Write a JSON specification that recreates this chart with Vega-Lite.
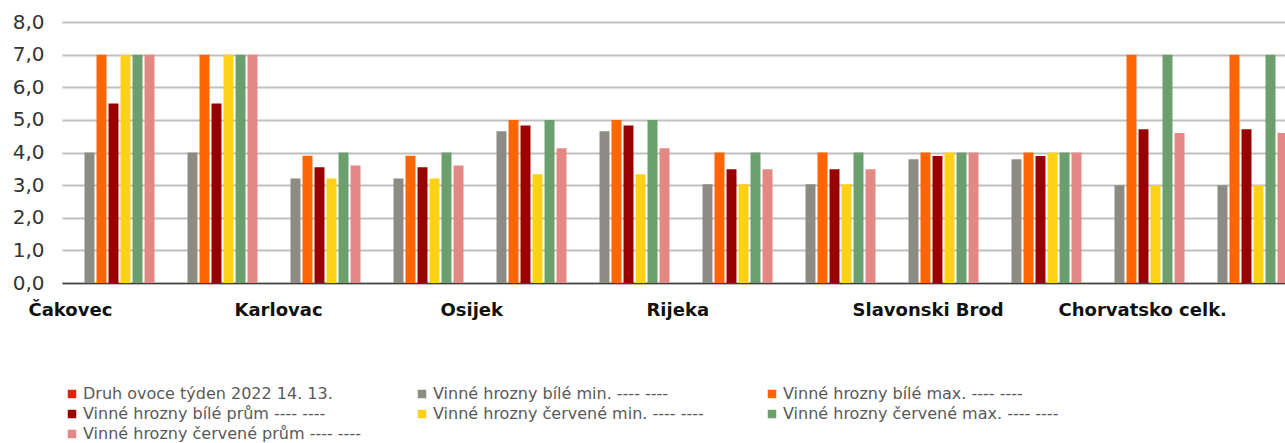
{
  "$schema": "https://vega.github.io/schema/vega-lite/v6.json",
  "autosize": {"type": "none"},
  "width": 1223,
  "height": 261,
  "padding": {"left": 62, "top": 22, "right": 0, "bottom": 160},
  "background": "white",
  "config": {"view": {"stroke": null}},
  "data": {
    "values": [
      {"skupina": "Čakovec|14", "rada": "Vinné hrozny bílé min. ---- ----", "cena": 4.0},
      {"skupina": "Čakovec|14", "rada": "Vinné hrozny bílé max. ---- ----", "cena": 7.0},
      {"skupina": "Čakovec|14", "rada": "Vinné hrozny bílé prům ---- ----", "cena": 5.5},
      {"skupina": "Čakovec|14", "rada": "Vinné hrozny červené min. ---- ----", "cena": 7.0},
      {"skupina": "Čakovec|14", "rada": "Vinné hrozny červené max. ---- ----", "cena": 7.0},
      {"skupina": "Čakovec|14", "rada": "Vinné hrozny červené prům ---- ----", "cena": 7.0},
      {"skupina": "Čakovec|13", "rada": "Vinné hrozny bílé min. ---- ----", "cena": 4.0},
      {"skupina": "Čakovec|13", "rada": "Vinné hrozny bílé max. ---- ----", "cena": 7.0},
      {"skupina": "Čakovec|13", "rada": "Vinné hrozny bílé prům ---- ----", "cena": 5.5},
      {"skupina": "Čakovec|13", "rada": "Vinné hrozny červené min. ---- ----", "cena": 7.0},
      {"skupina": "Čakovec|13", "rada": "Vinné hrozny červené max. ---- ----", "cena": 7.0},
      {"skupina": "Čakovec|13", "rada": "Vinné hrozny červené prům ---- ----", "cena": 7.0},
      {"skupina": "Karlovac|14", "rada": "Vinné hrozny bílé min. ---- ----", "cena": 3.2},
      {"skupina": "Karlovac|14", "rada": "Vinné hrozny bílé max. ---- ----", "cena": 3.9},
      {"skupina": "Karlovac|14", "rada": "Vinné hrozny bílé prům ---- ----", "cena": 3.55},
      {"skupina": "Karlovac|14", "rada": "Vinné hrozny červené min. ---- ----", "cena": 3.2},
      {"skupina": "Karlovac|14", "rada": "Vinné hrozny červené max. ---- ----", "cena": 4.0},
      {"skupina": "Karlovac|14", "rada": "Vinné hrozny červené prům ---- ----", "cena": 3.6},
      {"skupina": "Karlovac|13", "rada": "Vinné hrozny bílé min. ---- ----", "cena": 3.2},
      {"skupina": "Karlovac|13", "rada": "Vinné hrozny bílé max. ---- ----", "cena": 3.9},
      {"skupina": "Karlovac|13", "rada": "Vinné hrozny bílé prům ---- ----", "cena": 3.55},
      {"skupina": "Karlovac|13", "rada": "Vinné hrozny červené min. ---- ----", "cena": 3.2},
      {"skupina": "Karlovac|13", "rada": "Vinné hrozny červené max. ---- ----", "cena": 4.0},
      {"skupina": "Karlovac|13", "rada": "Vinné hrozny červené prům ---- ----", "cena": 3.6},
      {"skupina": "Osijek|14", "rada": "Vinné hrozny bílé min. ---- ----", "cena": 4.65},
      {"skupina": "Osijek|14", "rada": "Vinné hrozny bílé max. ---- ----", "cena": 5.0},
      {"skupina": "Osijek|14", "rada": "Vinné hrozny bílé prům ---- ----", "cena": 4.83},
      {"skupina": "Osijek|14", "rada": "Vinné hrozny červené min. ---- ----", "cena": 3.33},
      {"skupina": "Osijek|14", "rada": "Vinné hrozny červené max. ---- ----", "cena": 5.0},
      {"skupina": "Osijek|14", "rada": "Vinné hrozny červené prům ---- ----", "cena": 4.13},
      {"skupina": "Osijek|13", "rada": "Vinné hrozny bílé min. ---- ----", "cena": 4.65},
      {"skupina": "Osijek|13", "rada": "Vinné hrozny bílé max. ---- ----", "cena": 5.0},
      {"skupina": "Osijek|13", "rada": "Vinné hrozny bílé prům ---- ----", "cena": 4.83},
      {"skupina": "Osijek|13", "rada": "Vinné hrozny červené min. ---- ----", "cena": 3.33},
      {"skupina": "Osijek|13", "rada": "Vinné hrozny červené max. ---- ----", "cena": 5.0},
      {"skupina": "Osijek|13", "rada": "Vinné hrozny červené prům ---- ----", "cena": 4.13},
      {"skupina": "Rijeka|14", "rada": "Vinné hrozny bílé min. ---- ----", "cena": 3.03},
      {"skupina": "Rijeka|14", "rada": "Vinné hrozny bílé max. ---- ----", "cena": 4.0},
      {"skupina": "Rijeka|14", "rada": "Vinné hrozny bílé prům ---- ----", "cena": 3.49},
      {"skupina": "Rijeka|14", "rada": "Vinné hrozny červené min. ---- ----", "cena": 3.03},
      {"skupina": "Rijeka|14", "rada": "Vinné hrozny červené max. ---- ----", "cena": 4.0},
      {"skupina": "Rijeka|14", "rada": "Vinné hrozny červené prům ---- ----", "cena": 3.49},
      {"skupina": "Rijeka|13", "rada": "Vinné hrozny bílé min. ---- ----", "cena": 3.03},
      {"skupina": "Rijeka|13", "rada": "Vinné hrozny bílé max. ---- ----", "cena": 4.0},
      {"skupina": "Rijeka|13", "rada": "Vinné hrozny bílé prům ---- ----", "cena": 3.49},
      {"skupina": "Rijeka|13", "rada": "Vinné hrozny červené min. ---- ----", "cena": 3.03},
      {"skupina": "Rijeka|13", "rada": "Vinné hrozny červené max. ---- ----", "cena": 4.0},
      {"skupina": "Rijeka|13", "rada": "Vinné hrozny červené prům ---- ----", "cena": 3.49},
      {"skupina": "Slavonski Brod|14", "rada": "Vinné hrozny bílé min. ---- ----", "cena": 3.79},
      {"skupina": "Slavonski Brod|14", "rada": "Vinné hrozny bílé max. ---- ----", "cena": 4.0},
      {"skupina": "Slavonski Brod|14", "rada": "Vinné hrozny bílé prům ---- ----", "cena": 3.89},
      {"skupina": "Slavonski Brod|14", "rada": "Vinné hrozny červené min. ---- ----", "cena": 4.0},
      {"skupina": "Slavonski Brod|14", "rada": "Vinné hrozny červené max. ---- ----", "cena": 4.0},
      {"skupina": "Slavonski Brod|14", "rada": "Vinné hrozny červené prům ---- ----", "cena": 4.0},
      {"skupina": "Slavonski Brod|13", "rada": "Vinné hrozny bílé min. ---- ----", "cena": 3.79},
      {"skupina": "Slavonski Brod|13", "rada": "Vinné hrozny bílé max. ---- ----", "cena": 4.0},
      {"skupina": "Slavonski Brod|13", "rada": "Vinné hrozny bílé prům ---- ----", "cena": 3.89},
      {"skupina": "Slavonski Brod|13", "rada": "Vinné hrozny červené min. ---- ----", "cena": 4.0},
      {"skupina": "Slavonski Brod|13", "rada": "Vinné hrozny červené max. ---- ----", "cena": 4.0},
      {"skupina": "Slavonski Brod|13", "rada": "Vinné hrozny červené prům ---- ----", "cena": 4.0},
      {"skupina": "Chorvatsko celk.|14", "rada": "Vinné hrozny bílé min. ---- ----", "cena": 3.0},
      {"skupina": "Chorvatsko celk.|14", "rada": "Vinné hrozny bílé max. ---- ----", "cena": 7.0},
      {"skupina": "Chorvatsko celk.|14", "rada": "Vinné hrozny bílé prům ---- ----", "cena": 4.71},
      {"skupina": "Chorvatsko celk.|14", "rada": "Vinné hrozny červené min. ---- ----", "cena": 3.0},
      {"skupina": "Chorvatsko celk.|14", "rada": "Vinné hrozny červené max. ---- ----", "cena": 7.0},
      {"skupina": "Chorvatsko celk.|14", "rada": "Vinné hrozny červené prům ---- ----", "cena": 4.6},
      {"skupina": "Chorvatsko celk.|13", "rada": "Vinné hrozny bílé min. ---- ----", "cena": 3.0},
      {"skupina": "Chorvatsko celk.|13", "rada": "Vinné hrozny bílé max. ---- ----", "cena": 7.0},
      {"skupina": "Chorvatsko celk.|13", "rada": "Vinné hrozny bílé prům ---- ----", "cena": 4.71},
      {"skupina": "Chorvatsko celk.|13", "rada": "Vinné hrozny červené min. ---- ----", "cena": 3.0},
      {"skupina": "Chorvatsko celk.|13", "rada": "Vinné hrozny červené max. ---- ----", "cena": 7.0},
      {"skupina": "Chorvatsko celk.|13", "rada": "Vinné hrozny červené prům ---- ----", "cena": 4.6}
    ]
  },
  "mark": {"type": "bar", "clip": true},
  "encoding": {
    "x": {
      "field": "skupina",
      "type": "nominal",
      "sort": null,
      "scale": {
        "domain": ["Čakovec|14", "Čakovec|13", "Karlovac|14", "Karlovac|13", "Osijek|14", "Osijek|13", "Rijeka|14", "Rijeka|13", "Slavonski Brod|14", "Slavonski Brod|13", "Chorvatsko celk.|14", "Chorvatsko celk.|13"],
        "range": [0, 1236],
        "paddingInner": 0.184,
        "paddingOuter": 0.092
      },
      "axis": {
        "title": null,
        "labelExpr": "indexof(datum.value, '|14') >= 0 ? replace(datum.value, '|14', '') : ''",
        "labelAlign": "left",
        "labelBaseline": "top",
        "labelOffset": -85,
        "labelPadding": 18,
        "labelFont": "DejaVu Sans",
        "labelFontWeight": "bold",
        "labelFontSize": 18,
        "labelColor": "#111111",
        "labelLimit": 400,
        "labelOverlap": false,
        "labelAngle": 0,
        "ticks": false,
        "domainColor": "#404040",
        "domainWidth": 1.5
      }
    },
    "xOffset": {
      "field": "rada",
      "type": "nominal",
      "scale": {
        "domain": ["Druh ovoce týden 2022 14. 13.", "Vinné hrozny bílé min. ---- ----", "Vinné hrozny bílé max. ---- ----", "Vinné hrozny bílé prům ---- ----", "Vinné hrozny červené min. ---- ----", "Vinné hrozny červené max. ---- ----", "Vinné hrozny červené prům ---- ----"],
        "paddingInner": 0.17,
        "paddingOuter": 0.085
      }
    },
    "y": {
      "field": "cena",
      "type": "quantitative",
      "scale": {"domain": [0, 8], "nice": false},
      "axis": {
        "title": null,
        "values": [0, 1, 2, 3, 4, 5, 6, 7, 8],
        "labelExpr": "replace(format(datum.value, '.1f'), '.', ',')",
        "labelFont": "DejaVu Sans",
        "labelFontSize": 20,
        "labelColor": "#333333",
        "labelPadding": 18,
        "ticks": false,
        "domain": false,
        "grid": true,
        "gridColor": "#BFBFBF",
        "gridWidth": 2
      }
    },
    "color": {
      "field": "rada",
      "type": "nominal",
      "scale": {
        "domain": ["Druh ovoce týden 2022 14. 13.", "Vinné hrozny bílé min. ---- ----", "Vinné hrozny bílé max. ---- ----", "Vinné hrozny bílé prům ---- ----", "Vinné hrozny červené min. ---- ----", "Vinné hrozny červené max. ---- ----", "Vinné hrozny červené prům ---- ----"],
        "range": ["#E0260C", "#8C8C84", "#FF6600", "#990000", "#FCD116", "#6BA06E", "#E38884"]
      },
      "legend": {
        "title": null,
        "orient": "none",
        "direction": "horizontal",
        "legendX": 2,
        "legendY": 364,
        "columns": 3,
        "gridAlign": "all",
        "columnPadding": 53,
        "rowPadding": 4,
        "symbolType": "square",
        "symbolSize": 72,
        "symbolStrokeWidth": 0,
        "labelOffset": 3,
        "labelFont": "DejaVu Sans",
        "labelFontSize": 16,
        "labelColor": "#595959",
        "labelLimit": 400,
        "padding": 0
      }
    }
  }
}
